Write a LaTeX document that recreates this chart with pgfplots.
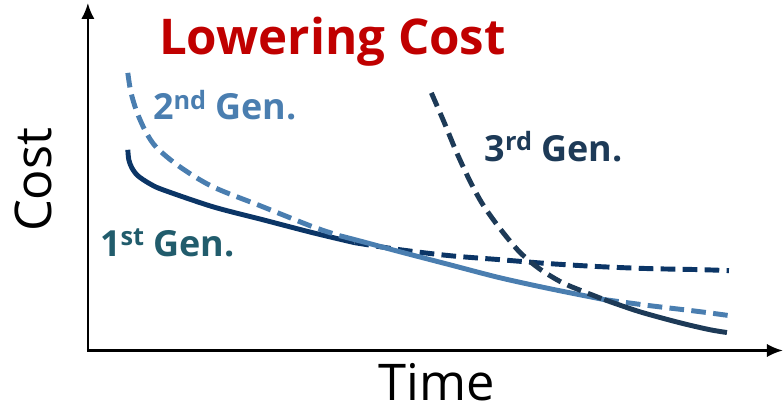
\documentclass[border=0pt]{standalone}
\usepackage{fontspec}
\setmainfont{Open Sans}
\usepackage{pgfplots}
\pgfplotsset{compat=1.18}
\usetikzlibrary{arrows.meta}
\definecolor{genone}{HTML}{0B3566}
\definecolor{gentwo}{HTML}{4A7EB0}
\definecolor{genthree}{HTML}{1D3A57}
\definecolor{labone}{HTML}{215C6C}
\definecolor{titlered}{HTML}{C00000}
\newcommand{\sups}[1]{\raisebox{0.55ex}{\fontsize{19}{20}\selectfont #1}}
\begin{document}
\begin{tikzpicture}
\begin{axis}[
  width=588pt, height=310.5pt, scale only axis,
  xmin=0, xmax=784, ymin=0, ymax=414, y dir=reverse,
  hide axis, clip=false,
  every axis plot/.append style={line width=3.7pt, line cap=butt, line join=round, smooth, tension=0.5, no marks},
  gdash/.style={dash pattern=on 11pt off 5.5pt},
]
\path (rel axis cs:0,0) rectangle (rel axis cs:1,1);
% axes
\draw[line width=1.7pt, -{Latex[length=12pt,width=10pt]}] (axis cs:88,351) -- (axis cs:88,3);
\draw[line width=1.7pt, -{Latex[length=12pt,width=10pt]}] (axis cs:87,351) -- (axis cs:784,351);
% 1st generation
\addplot[genone] coordinates {(128,150) (129,160) (132,168) (138,176) (150,184) (163,190) (213,207) (263,220) (313,233) (355,243)};
\addplot[genone, gdash] coordinates {(355,243) (400,250) (450,256) (500,260) (550,264) (600,267) (650,269) (700,270) (730,271)};
% 2nd generation
\addplot[gentwo, gdash] coordinates {(128,73) (131,92) (137,112) (146,132) (157,148) (180,167) (213,187) (263,207) (313,227) (340,236)};
\addplot[gentwo] coordinates {(340,236) (363,242) (400,252) (450,265) (500,278) (550,289) (605,300)};
\addplot[gentwo, gdash] coordinates {(605,300) (650,306) (700,312) (730,316)};
% 3rd generation
\addplot[genthree, gdash] coordinates {(432,93) (445,123) (457,152) (470,180) (483,204) (500,228) (520,252) (540,269) (563,283) (587,293) (605,300)};
\addplot[genthree] coordinates {(605,300) (640,312) (680,323) (710,330) (728,333)};
% labels
\node[font=\bfseries\fontsize{37}{40}\selectfont, text=titlered] at (axis cs:333,42) {Lowering Cost};
\node[font=\bfseries\fontsize{27}{30}\selectfont, text=gentwo, anchor=base west, inner sep=0pt] at (axis cs:153,120) {2\sups{nd} Gen.};
\node[font=\bfseries\fontsize{27}{30}\selectfont, text=genthree, anchor=base west, inner sep=0pt] at (axis cs:485,162) {3\sups{rd} Gen.};
\node[font=\bfseries\fontsize{27}{30}\selectfont, text=labone, anchor=base west, inner sep=0pt] at (axis cs:100,257) {1\sups{st} Gen.};
\node[font=\fontsize{38}{40}\selectfont, rotate=90] at (axis cs:33,180) {Cost};
\node[font=\fontsize{38}{40}\selectfont, anchor=base, inner sep=0pt] at (axis cs:437,401) {Time};
\end{axis}
\end{tikzpicture}
\end{document}
